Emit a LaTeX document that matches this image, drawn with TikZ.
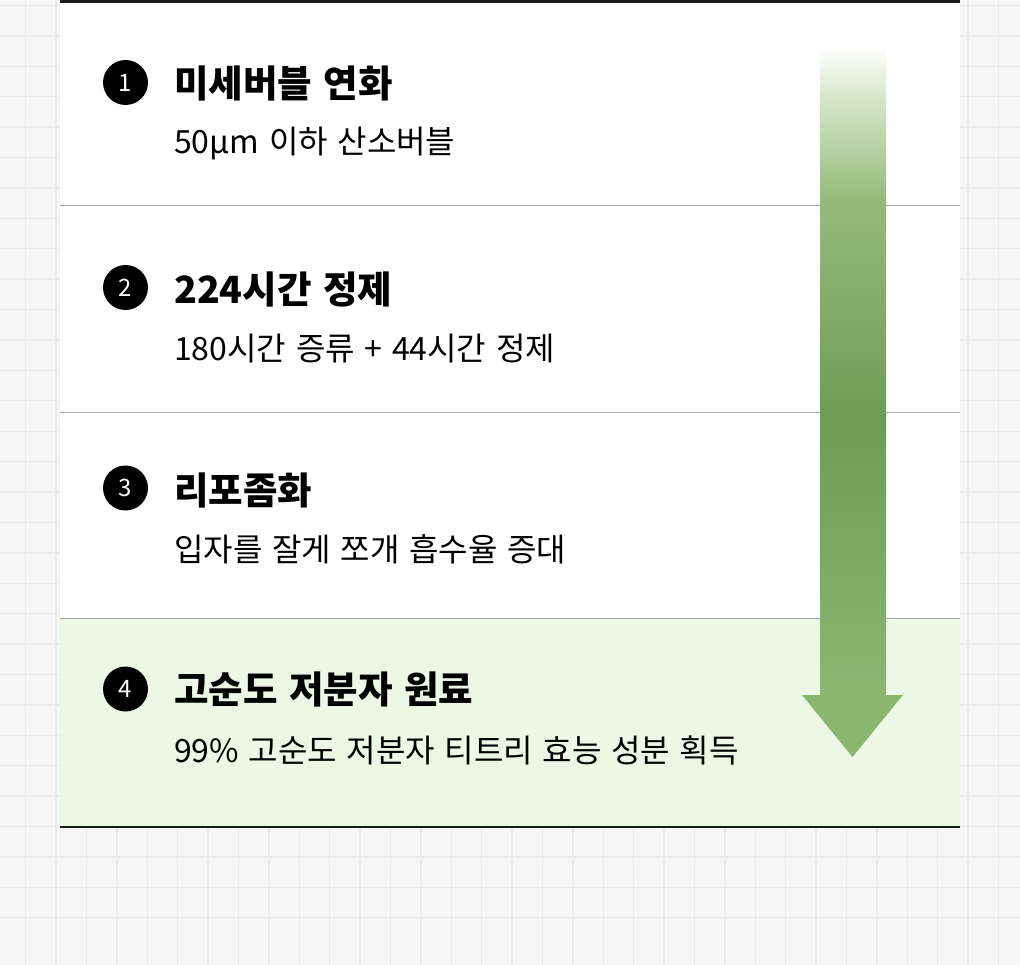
\documentclass[tikz,border=0pt]{standalone}
\usepackage{fontspec}
\setmainfont{Noto Sans CJK KR}[WordSpace=1.35]
\usetikzlibrary{positioning}

\definecolor{bggray}{HTML}{F6F6F6}
\definecolor{gridgray}{HTML}{EAEAEA}
\definecolor{sepgray}{HTML}{A9A9A9}
\definecolor{edgeblack}{HTML}{1A1A1A}
\definecolor{rowgreen}{HTML}{EDF7E6}
\definecolor{arrowlow}{HTML}{8CB772}
\definecolor{arrowdark}{HTML}{6F9B55}
\definecolor{arrowmid}{HTML}{94BB7A}
\definecolor{arrowpale}{HTML}{D5E5C8}
\definecolor{headgreen}{HTML}{8AB670}

\pgfdeclareverticalshading{arrowfade}{100bp}{color(0bp)=(arrowlow); color(25bp)=(arrowlow);
  color(46.2bp)=(arrowdark); color(63.2bp)=(arrowmid); color(70.9bp)=(arrowpale);
  color(75bp)=(white); color(100bp)=(white)}

\begin{document}
\begin{tikzpicture}[
  x=1pt, y=-1pt,
  gridline/.style = {draw=gridgray, line width=1.4pt},
  rowline/.style = {draw=sepgray, line width=1pt},
  edgeline/.style = {draw=edgeblack, line width=2.6pt},
  numdot/.style = {circle, fill=black, text=white, minimum size=45pt, inner sep=0pt,
    font=\fontsize{24}{24}\selectfont},
  steptitle/.style = {anchor=west, inner sep=0pt, font=\fontsize{37.5}{37.5}\selectfont\bfseries},
  stepsub/.style = {anchor=west, inner sep=0pt, font=\fontsize{32}{32}\selectfont}
  ]
  \useasboundingbox (0,0) rectangle (1020,965);
  \fill[bggray] (0,0) rectangle (1020,965);
  \foreach \gx in {0,...,32}
    \draw[gridline] ({25.7+30.4*\gx},0) -- ({25.7+30.4*\gx},965);
  \foreach \gy in {0,...,30}
    \draw[gridline] (0,{5.6+30.4*\gy}) -- (1020,{5.6+30.4*\gy});

  % panel and rows
  \fill[white] (60,0) rectangle (960,827);
  \fill[rowgreen] (60,619) rectangle (960,827);
  \draw[rowline] (60,205.5) -- (960,205.5);
  \draw[rowline] (60,412.5) -- (960,412.5);
  \draw[rowline] (60,618.5) -- (960,618.5);

  % arrow
  \shade[shading=arrowfade] (820,47) rectangle (886,695.5);
  \coordinate (hl) at (802,695);
  \coordinate (hr) at (903,695);
  \coordinate (tip) at (852.5,757);
  \fill[headgreen] (hl) -- (hr) -- (tip) -- cycle;

  \draw[edgeline] (60,1.3) -- (960,1.3);
  \draw[edgeline] (60,827) -- (960,827);

  \node[numdot] (n1) at (125.5,82.5) {1};
  \node[steptitle] (t1) at (174,83) {미세버블 연화};
  \node[stepsub] (s1) at (174,143) {50µm 이하 산소버블};

  \node[numdot] (n2) at (125.5,287.5) {2};
  \node[steptitle] (t2) at (174,289) {224시간 정제};
  \node[stepsub] (s2) at (174,349) {180시간 증류 + 44시간 정제};

  \node[numdot] (n3) at (125.5,488) {3};
  \node[steptitle] (t3) at (174,490) {리포좀화};
  \node[stepsub] (s3) at (174,549) {입자를 잘게 쪼개 흡수율 증대};

  \node[numdot] (n4) at (125.5,689) {4};
  \node[steptitle] (t4) at (174,689) {고순도 저분자 원료};
  \node[stepsub] (s4) at (174,750) {99\% 고순도 저분자 티트리 효능 성분 획득};

\end{tikzpicture}
\end{document}
